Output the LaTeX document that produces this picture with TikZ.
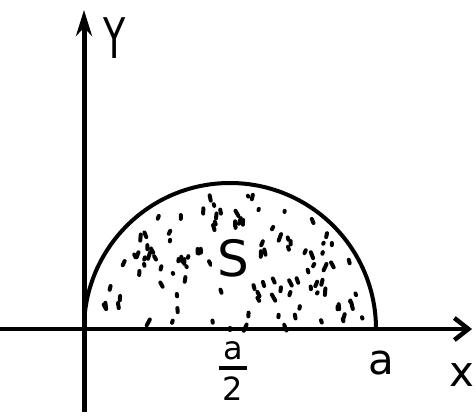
\documentclass[tikz,border=0pt]{standalone}
\usepackage{fontspec}
\setmainfont{DejaVu Sans}
\usetikzlibrary{arrows.meta}
\begin{document}
\begin{tikzpicture}[x=1pt,y=-1pt,
  yaxis/.style={line width=5pt,-{Stealth[length=26pt,width=16pt]}},
  xaxis/.style={line width=4.5pt,-{Straight Barb[length=14pt,width=22pt]}},
  curve/.style={line width=4pt},
  speck/.style={line width=4pt,line cap=round}]
\useasboundingbox (0,0) rectangle (476,417);
\fill[white] (0,0) rectangle (476,417);
\coordinate (ybot) at (84,412);
\coordinate (ytop) at (84,10);
\coordinate (xl) at (0,329);
\coordinate (xr) at (472,329);
\coordinate (o) at (84,329);
\coordinate (c) at (230,329);
\coordinate (aa) at (376,329);
\draw[yaxis] (ybot) -- (ytop);
\draw[xaxis] (xl) -- (xr);
\draw[curve] (o) arc[start angle=180,end angle=360,radius=146];
\fill (c) circle (3pt);
\pgfmathsetseed{11}
\foreach \i in {1,...,110}{
  \pgfmathsetmacro{\rr}{16+122*sqrt(rnd)}
  \pgfmathsetmacro{\th}{-(4+172*rnd)}
  \pgfmathsetmacro{\ang}{60+60*rnd}
  \pgfmathsetmacro{\len}{1+6*rnd}
  \draw[speck] ([shift={(\th:\rr)}]c) -- ++(\ang:\len);
}
\node[font=\fontsize{50}{52}\selectfont,fill=white,inner sep=5pt] (S) at (233,258) {S};
\node[font=\fontsize{56}{58}\selectfont,xscale=0.65] (Y) at (115,38) {Y};
\node[font=\fontsize{32}{34}\selectfont] (an) at (233,351) {a};
\node[font=\fontsize{32}{34}\selectfont] (tw) at (233,389) {2};
\draw[line width=3.5pt] (219,368) -- (247,368);
\node[font=\fontsize{42}{44}\selectfont] (a) at (381,363) {a};
\node[font=\fontsize{42}{44}\selectfont] (x) at (462,375) {x};
\end{tikzpicture}
\end{document}
